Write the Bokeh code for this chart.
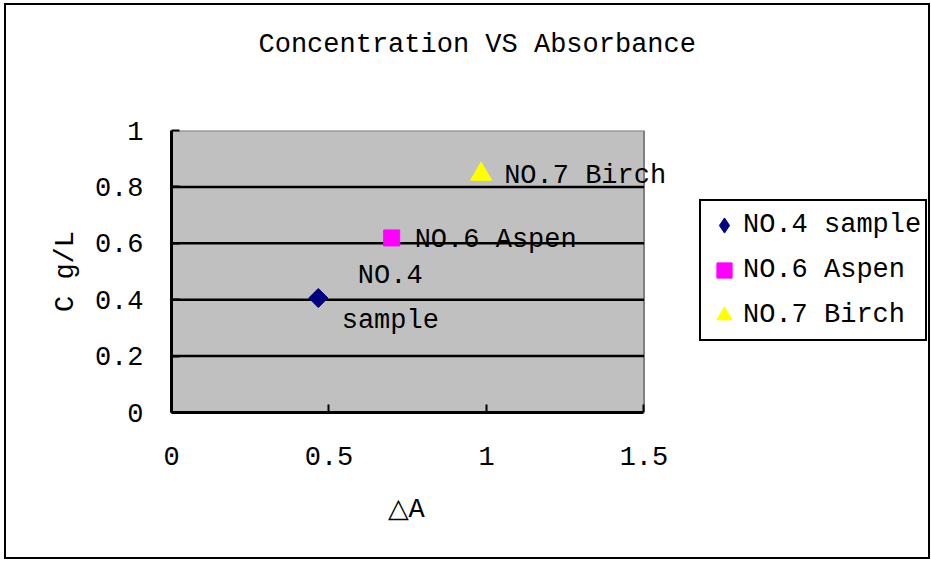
import math
from bokeh.plotting import figure
from bokeh.models import (ColumnDataSource, Range1d, FixedTicker, Legend, LegendItem,
                          Label, LabelSet, Title)
from bokeh.core.properties import value
from bokeh.embed import file_html
from bokeh.resources import INLINE

# ---- data ----
title_text = "Concentration VS Absorbance"
series_names = ["NO.4 sample", "NO.6 Aspen", "NO.7 Birch"]
point_labels = ["NO.4\nsample", "NO.6 Aspen", "NO.7 Birch"]
delta_a = [0.466, 0.699, 0.983]
conc = [0.406, 0.619, 0.845]
x_ticks = [0, 0.5, 1, 1.5]
x_tick_labels = ["0", "0.5", "1", "1.5"]
y_ticks = [0, 0.2, 0.4, 0.6, 0.8, 1]
y_tick_labels = ["0", "0.2", "0.4", "0.6", "0.8", "1"]
x_label = "△A"
y_label = "C g/L"

# ---- layout / styles ----
FONT = "Liberation Mono"
FS = "27px"
CHAR_W = 0.6 * 27
W, H = 922, 552                # canvas (inside the 2px page border)
LEFT, TOP, BOTTOM = 165, 125, 149
PLOT_W = 470                   # pixel width of the gray plot area
frame_w = W - LEFT
x_end = x_ticks[0] + (x_ticks[-1] - x_ticks[0]) * frame_w / PLOT_W
# the axis label is centred on the whole frame; pad it so it sits under the plot area
pad = round((frame_w - PLOT_W) / CHAR_W)

markers = ["square", "square", "triangle"]
legend_markers = ["diamond", "square", "triangle"]
angles = [math.pi / 4, 0, 0]
sizes = [13.5, 16, 21]
colors = ["#000080", "#FF00FF", "#FFFF00"]

p = figure(width=W, height=H, output_backend="svg", toolbar_location=None,
           x_range=Range1d(x_ticks[0], x_end), y_range=Range1d(y_ticks[0], y_ticks[-1]),
           min_border_left=LEFT, min_border_right=0, min_border_top=TOP,
           min_border_bottom=BOTTOM)
p.styles = {"border": "2px solid black", "margin-left": "4px", "margin-top": "3px",
            "box-sizing": "content-box"}
p.background_fill_color = "white"
p.border_fill_color = "white"
p.outline_line_color = None
p.xgrid.visible = False
p.ygrid.visible = False

# blank spacer between the plot area and the title
p.add_layout(Title(text="\u00a0", text_font=FONT, text_font_size=FS, standoff=34), "above")

p.title.text = title_text
p.title.align = "left"
p.title.offset = 87
p.title.vertical_align = "bottom"
p.title.standoff = 10
p.title.text_font = FONT
p.title.text_font_size = FS
p.title.text_font_style = "normal"
p.title.text_color = "black"

# gray plot area
p.quad(left=x_ticks[0], right=x_ticks[-1], bottom=y_ticks[0], top=y_ticks[-1],
       fill_color="#C0C0C0", line_color="#808080", line_width=2)
# horizontal gridlines
inner = y_ticks[1:-1]
p.segment(x0=[x_ticks[0]] * len(inner), x1=[x_ticks[-1]] * len(inner),
          y0=inner, y1=inner, line_color="black", line_width=2.5)

xa = p.xaxis[0]
ya = p.yaxis[0]
xa.bounds = (x_ticks[0], x_ticks[-1])
ya.bounds = (y_ticks[0], y_ticks[-1])
xa.ticker = FixedTicker(ticks=x_ticks)
ya.ticker = FixedTicker(ticks=y_ticks)
xa.major_label_overrides = dict(zip(x_ticks, x_tick_labels))
ya.major_label_overrides = dict(zip(y_ticks, y_tick_labels))
xa.axis_label = x_label + "\u00a0" * pad
ya.axis_label = y_label
for ax in (xa, ya):
    ax.axis_line_color = "black"
    ax.axis_line_width = 3
    ax.major_tick_in = 8
    ax.major_tick_out = 0
    ax.major_tick_line_width = 2
    ax.major_tick_line_color = "black"
    ax.minor_tick_line_color = None
    ax.major_label_text_font = FONT
    ax.major_label_text_font_size = FS
    ax.major_label_text_color = "black"
    ax.axis_label_text_font = FONT
    ax.axis_label_text_font_size = FS
    ax.axis_label_text_font_style = "normal"
    ax.axis_label_text_color = "black"
xa.major_label_standoff = 34
xa.axis_label_standoff = 27
ya.major_label_standoff = 28
ya.axis_label_standoff = 11

legend_renderers = []
for i in range(len(series_names)):
    # small marker underneath, used for the legend swatch
    lr = p.scatter(x=[delta_a[i]], y=[conc[i]], marker=legend_markers[i], size=8,
                   fill_color=colors[i], line_color=colors[i])
    legend_renderers.append(lr)
    p.scatter(x=[delta_a[i]], y=[conc[i]], marker=markers[i], angle=angles[i],
              size=sizes[i], fill_color=colors[i], line_color=colors[i])

# data labels
src = ColumnDataSource(dict(x=delta_a[1:], y=conc[1:], text=point_labels[1:]))
p.add_layout(LabelSet(x="x", y="y", text="text", source=src, x_offset=23, y_offset=-2,
                      text_align="left", text_baseline="middle",
                      text_font=value(FONT), text_font_size=value(FS), text_color="black"))
p.add_layout(Label(x=delta_a[0], y=conc[0], text=point_labels[0], x_offset=72, y_offset=0,
                   text_align="center", text_baseline="middle", text_line_height=1.5,
                   text_font=FONT, text_font_size=FS, text_color="black"))

legend = Legend(items=[LegendItem(label=series_names[i], renderers=[legend_renderers[i]])
                       for i in range(len(series_names))],
                location=(528, 71), margin=0, padding=4, spacing=5,
                glyph_width=38, glyph_height=40, label_height=40, label_standoff=0,
                label_text_font=FONT, label_text_font_size=FS, label_text_color="black",
                border_line_color="black", border_line_width=2, border_line_alpha=1,
                background_fill_color="white", background_fill_alpha=1)
p.add_layout(legend)

open("out.html", "w").write(file_html(p, INLINE))
